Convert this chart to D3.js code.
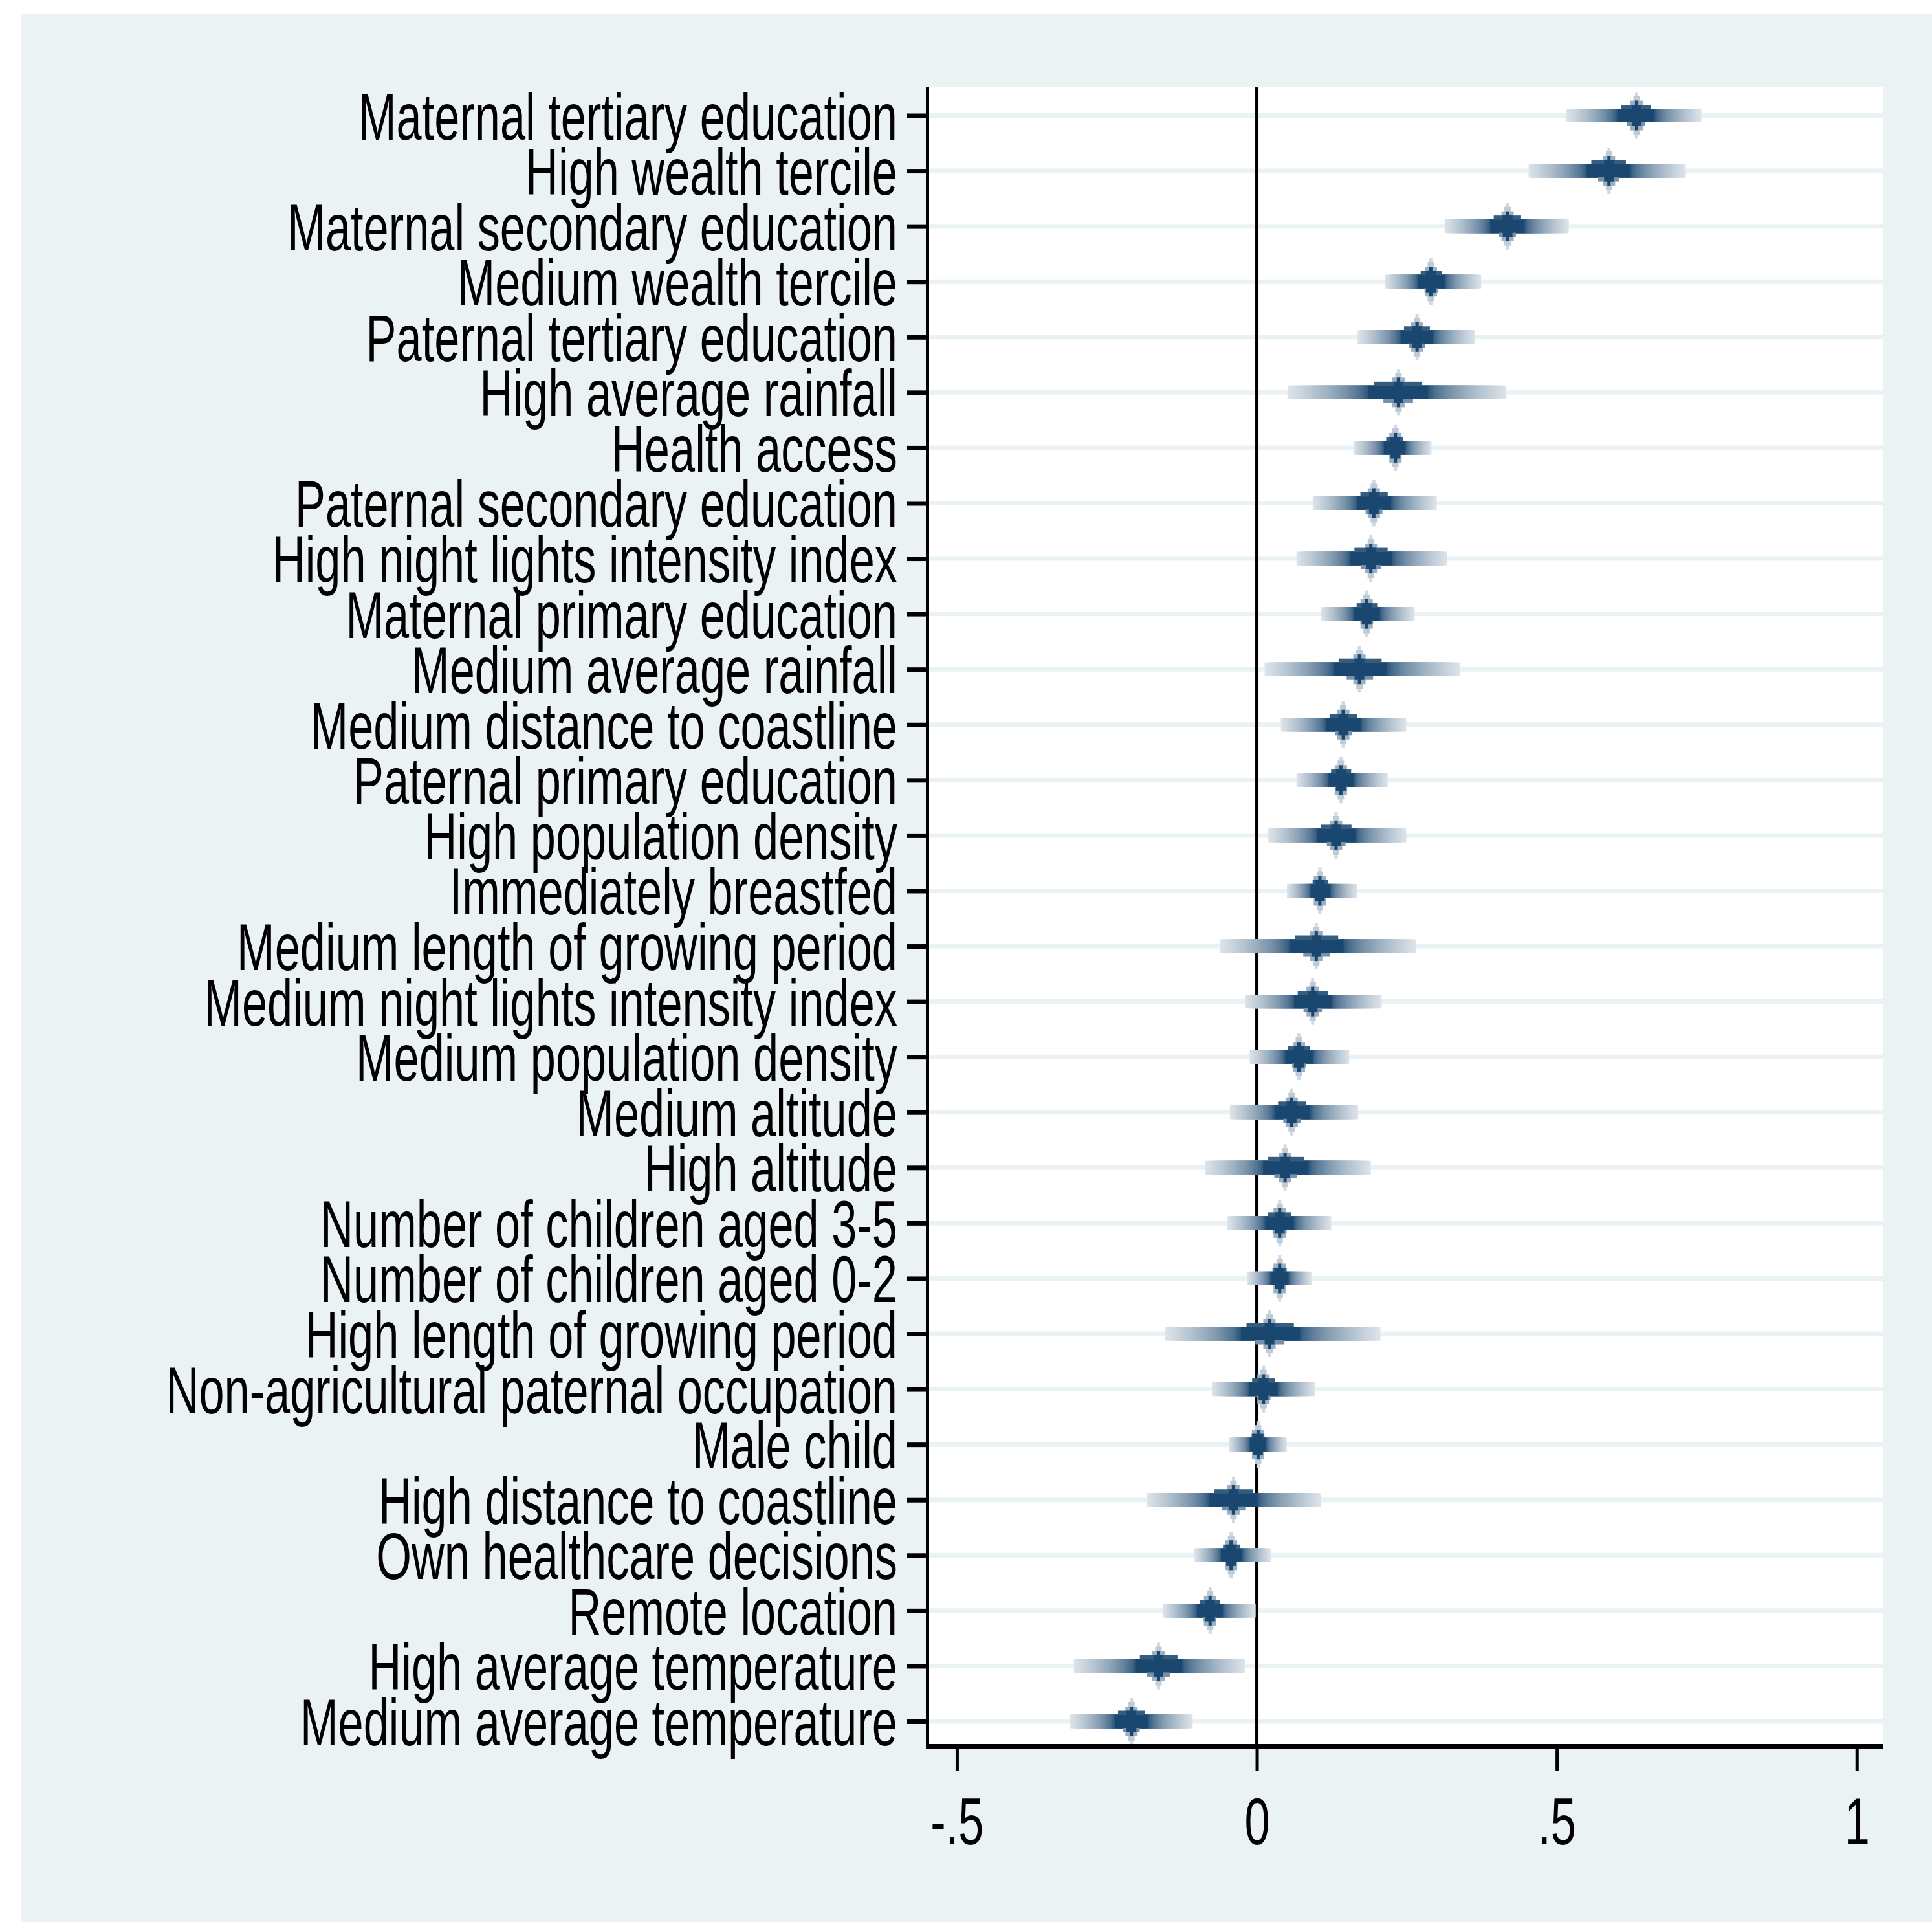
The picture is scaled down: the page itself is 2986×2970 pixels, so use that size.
<!DOCTYPE html>
<html>
<head>
<meta charset="utf-8">
<script src="https://cdn.jsdelivr.net/npm/d3@7"></script>
<style>
  html, body { margin: 0; padding: 0; background: #ffffff; }
  svg { display: block; }
  text { font-family: "Liberation Sans", Arial, "DejaVu Sans", sans-serif; fill: #000; }
</style>
</head>
<body>
<script>
// ---------------- data ----------------
const categories = [
  "Maternal tertiary education",
  "High wealth tercile",
  "Maternal secondary education",
  "Medium wealth tercile",
  "Paternal tertiary education",
  "High average rainfall",
  "Health access",
  "Paternal secondary education",
  "High night lights intensity index",
  "Maternal primary education",
  "Medium average rainfall",
  "Medium distance to coastline",
  "Paternal primary education",
  "High population density",
  "Immediately breastfed",
  "Medium length of growing period",
  "Medium night lights intensity index",
  "Medium population density",
  "Medium altitude",
  "High altitude",
  "Number of children aged 3-5",
  "Number of children aged 0-2",
  "High length of growing period",
  "Non-agricultural paternal occupation",
  "Male child",
  "High distance to coastline",
  "Own healthcare decisions",
  "Remote location",
  "High average temperature",
  "Medium average temperature"
];
const estimates = [0.633, 0.587, 0.418, 0.290, 0.267, 0.236, 0.231, 0.195, 0.190, 0.183,
                   0.171, 0.144, 0.140, 0.132, 0.105, 0.099, 0.093, 0.070, 0.058, 0.047,
                   0.038, 0.038, 0.021, 0.011, 0.002, -0.039, -0.043, -0.078, -0.164, -0.209];
const ciLow = [0.516, 0.453, 0.313, 0.213, 0.168, 0.051, 0.161, 0.093, 0.066, 0.107,
               0.013, 0.040, 0.066, 0.019, 0.050, -0.061, -0.020, -0.012, -0.045, -0.086,
               -0.049, -0.016, -0.153, -0.075, -0.047, -0.184, -0.104, -0.157, -0.305, -0.311];
const ciHigh = [0.741, 0.715, 0.520, 0.374, 0.364, 0.416, 0.291, 0.300, 0.317, 0.263,
                0.339, 0.249, 0.218, 0.249, 0.167, 0.265, 0.208, 0.154, 0.169, 0.190,
                0.124, 0.091, 0.206, 0.097, 0.050, 0.107, 0.023, -0.002, -0.020, -0.107];
const xTickValues = [-0.5, 0, 0.5, 1];
const xTickLabels = ["-.5", "0", ".5", "1"];

// ---------------- layout ----------------
const W = 2986, H = 2970;
const navy = "#1a476f";
const bg = "#eaf2f3";
const plot = { left: 1433.5, right: 2911, top: 135, bottom: 2698.5 };
const fontSize = 102, sx = 0.69;

const svg = d3.select("body").append("svg").attr("width", W).attr("height", H);
svg.append("rect").attr("x", 0).attr("y", 0).attr("width", W).attr("height", H).attr("fill", "#fff");
svg.append("rect").attr("x", 33).attr("y", 21).attr("width", W - 33).attr("height", H - 21).attr("fill", bg);
svg.append("rect").attr("x", plot.left).attr("y", plot.top)
   .attr("width", plot.right - plot.left).attr("height", plot.bottom - plot.top).attr("fill", "#fff");

const x = d3.scaleLinear().domain([-0.549, 1.0445]).range([plot.left, plot.right]);
const y = d3.scalePoint().domain(categories).range([178.5, 2660]);

// grid lines
svg.append("g").selectAll("line").data(categories).join("line")
  .attr("x1", plot.left).attr("x2", plot.right)
  .attr("y1", d => y(d)).attr("y2", d => y(d))
  .attr("stroke", bg).attr("stroke-width", 7);

// zero reference line
svg.append("line").attr("x1", x(0)).attr("x2", x(0))
  .attr("y1", plot.top).attr("y2", plot.bottom - 3.5)
  .attr("stroke", "#000").attr("stroke-width", 5);

// ---------------- smoothed CI markers ----------------
const tint = i => d3.interpolateRgb("#ffffff", navy)(i);
const f0 = 0.275, N = 36;
const rows = categories.map((c, i) => ({ c, b: estimates[i], lo: ciLow[i], hi: ciHigh[i] }));
const mg = svg.append("g");
rows.forEach(r => {
  const cx = x(r.b), cy = y(r.c);
  const hwL = cx - x(r.lo), hwR = x(r.hi) - cx;
  const g = mg.append("g");
  // light spike (thin inner levels)
  [[2.5, 36, 0.2], [5, 30, 0.28], [9.5, 23, 0.43]].forEach(([hw, hh, it]) => {
    g.append("rect").attr("x", cx - hw).attr("y", cy - hh).attr("width", 2 * hw).attr("height", 2 * hh).attr("fill", tint(it));
  });
  // graded interval bar
  for (let k = N; k >= 1; k--) {
    const f = f0 + (1 - f0) * k / N;
    const t = Math.pow((f - f0) / (1 - f0), 0.6);
    g.append("rect")
      .attr("x", cx - f * hwL).attr("width", f * (hwL + hwR))
      .attr("y", cy - 10.5).attr("height", 21)
      .attr("fill", tint(1 - 0.85 * t));
  }
  g.append("rect").attr("x", cx - f0 * hwL).attr("width", f0 * (hwL + hwR))
    .attr("y", cy - 10.5).attr("height", 21).attr("fill", navy);
  // wider inner levels
  g.append("rect").attr("x", cx - 0.22 * hwL).attr("width", 0.22 * (hwL + hwR))
    .attr("y", cy - 16.5).attr("height", 6.5).attr("fill", tint(0.88));
  g.append("rect").attr("x", cx - 0.135 * hwL).attr("width", 0.135 * (hwL + hwR))
    .attr("y", cy + 10).attr("height", 6.5).attr("fill", tint(0.6));
  // dark centre
  g.append("rect").attr("x", cx - 7.5).attr("y", cy - 16.5).attr("width", 15).attr("height", 33).attr("fill", navy);
  g.append("rect").attr("x", cx - 2.5).attr("y", cy - 23).attr("width", 5).attr("height", 46).attr("fill", navy);
});

// ---------------- axes ----------------
const yAxis = d3.axisLeft(y).tickSize(31.5).tickPadding(0);
const yg = svg.append("g").attr("transform", `translate(${plot.left},0)`).call(yAxis);
yg.select(".domain").remove();
yg.selectAll(".tick line").attr("stroke", "#000").attr("stroke-width", 7);
yg.selectAll(".tick text")
  .attr("x", null).attr("dy", null).attr("y", null)
  .attr("text-anchor", "end")
  .attr("font-size", fontSize)
  .attr("transform", `translate(-46.5, ${0.358 * fontSize}) scale(${sx},1)`);

const xAxis = d3.axisBottom(x).tickValues(xTickValues)
  .tickFormat((d, i) => xTickLabels[i]).tickSize(37.5).tickPadding(0);
const xg = svg.append("g").attr("transform", `translate(0,${plot.bottom})`).call(xAxis);
xg.select(".domain").remove();
xg.selectAll(".tick line").attr("stroke", "#000").attr("stroke-width", 5);
xg.selectAll(".tick text")
  .attr("y", null).attr("dy", null)
  .attr("text-anchor", "middle")
  .attr("font-size", fontSize)
  .attr("transform", `translate(0, 151.5) scale(${sx},1)`);

// axis lines
svg.append("line").attr("x1", plot.left).attr("x2", plot.left)
  .attr("y1", plot.top).attr("y2", plot.bottom + 3.5)
  .attr("stroke", "#000").attr("stroke-width", 5);
svg.append("line").attr("x1", plot.left - 2.5).attr("x2", plot.right)
  .attr("y1", plot.bottom).attr("y2", plot.bottom)
  .attr("stroke", "#000").attr("stroke-width", 7);
</script>
</body>
</html>
